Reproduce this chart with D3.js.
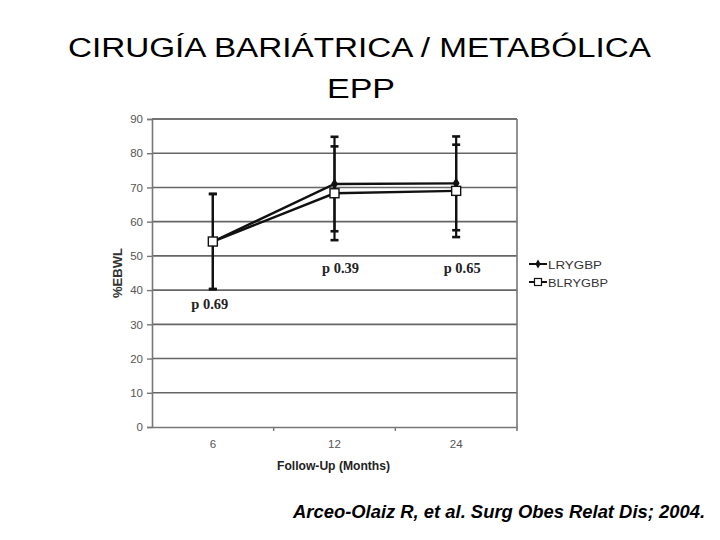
<!DOCTYPE html>
<html>
<head>
<meta charset="utf-8">
<script src="https://cdn.jsdelivr.net/npm/d3@7"></script>
<style>
  body { margin: 0; background: #fff; }
  svg { display: block; font-family: "Liberation Sans", Arial, sans-serif; }
</style>
</head>
<body>
<div id="chart-container"></div>
<script>
// Data
const months = ["6", "12", "24"];
const lrygbp = [54.2, 71.0, 71.2];
const lrygbpSd = [13.9, 13.8, 13.7];
const blrygbp = [54.2, 68.3, 69.0];
const blrygbpSd = [13.9, 13.7, 13.5];
const pLabels = ["p 0.69", "p 0.39", "p 0.65"];
const pAt = [34.4, 45.0, 45.0];
const yTicks = [0, 10, 20, 30, 40, 50, 60, 70, 80, 90];

const W = 720, H = 540;
const plot = { left: 152, right: 517, top: 119, bottom: 427 };

const svg = d3.select("#chart-container")
  .append("svg")
  .attr("width", W)
  .attr("height", H);

// Title (slide text is stretched a bit wider than plain Arial)
svg.append("text")
  .attr("x", 68).attr("y", 57)
  .attr("textLength", 583).attr("lengthAdjust", "spacingAndGlyphs")
  .style("font-size", "27px")
  .text("CIRUGÍA BARIÁTRICA / METABÓLICA");
svg.append("text")
  .attr("x", 327).attr("y", 98)
  .attr("textLength", 68).attr("lengthAdjust", "spacingAndGlyphs")
  .style("font-size", "27px")
  .text("EPP");

// Scales
const x = d3.scaleBand()
  .domain(months)
  .range([plot.left, plot.right]);

const y = d3.scaleLinear()
  .domain([0, 90])
  .range([plot.bottom, plot.top]);

const cx = d => x(d) + x.bandwidth() / 2;

// Gridlines
svg.append("g")
  .selectAll("line")
  .data(yTicks.slice(1))
  .enter()
  .append("line")
  .attr("x1", plot.left).attr("x2", plot.right)
  .attr("y1", d => y(d)).attr("y2", d => y(d))
  .attr("stroke", d => d === 90 ? "#444" : "#666")
  .attr("stroke-width", 1.6);

// Right border
svg.append("line")
  .attr("x1", plot.right).attr("x2", plot.right)
  .attr("y1", plot.top).attr("y2", plot.bottom + 4)
  .attr("stroke", "#777").attr("stroke-width", 1.6);

// Y axis
const yAxis = svg.append("g")
  .attr("transform", `translate(${plot.left},0)`)
  .call(d3.axisLeft(y).tickValues(yTicks).tickSize(5).tickPadding(4));
yAxis.select(".domain").attr("stroke", "#777").attr("stroke-width", 1.6);
yAxis.selectAll(".tick line").attr("stroke", "#777").attr("stroke-width", 1.4);
yAxis.selectAll("text").attr("fill", "#555").style("font-size", "11.5px")
  .style("font-family", "'Liberation Sans', Arial, sans-serif");

// X axis
const xAxis = svg.append("g")
  .attr("transform", `translate(0,${plot.bottom})`)
  .call(d3.axisBottom(x).tickSize(0).tickPadding(13));
xAxis.select(".domain").attr("stroke", "#777").attr("stroke-width", 1.6);
xAxis.selectAll("text").attr("fill", "#555").style("font-size", "11.5px")
  .style("font-family", "'Liberation Sans', Arial, sans-serif");
// tick marks between categories
xAxis.selectAll(".sep")
  .data(months.slice(1))
  .enter()
  .append("line")
  .attr("x1", d => x(d)).attr("x2", d => x(d))
  .attr("y1", 0).attr("y2", 4)
  .attr("stroke", "#777").attr("stroke-width", 1.4);

// Axis titles
svg.append("text")
  .attr("transform", `translate(122,298) rotate(-90)`)
  .attr("textLength", 50).attr("lengthAdjust", "spacingAndGlyphs")
  .style("font-size", "12px")
  .style("font-weight", "bold")
  .attr("fill", "#333")
  .text("%EBWL");

svg.append("text")
  .attr("x", 277).attr("y", 470)
  .attr("textLength", 113).attr("lengthAdjust", "spacingAndGlyphs")
  .style("font-size", "12px")
  .style("font-weight", "bold")
  .attr("fill", "#222")
  .text("Follow-Up (Months)");

// Error bars
function errorBars(vals, sds) {
  const g = svg.append("g").attr("stroke", "#111").attr("stroke-width", 2.2);
  months.forEach((m, i) => {
    const hi = y(vals[i] + sds[i]), lo = y(vals[i] - sds[i]);
    g.append("line").attr("x1", cx(m)).attr("x2", cx(m)).attr("y1", hi).attr("y2", lo);
    g.append("line").attr("x1", cx(m) - 4).attr("x2", cx(m) + 4).attr("y1", hi).attr("y2", hi).attr("stroke-width", 2.6);
    g.append("line").attr("x1", cx(m) - 4).attr("x2", cx(m) + 4).attr("y1", lo).attr("y2", lo).attr("stroke-width", 2.6);
  });
}
errorBars(lrygbp, lrygbpSd);
errorBars(blrygbp, blrygbpSd);

const line = d3.line()
  .x((d, i) => cx(months[i]))
  .y(d => y(d));

svg.append("path")
  .datum(lrygbp)
  .attr("d", line)
  .attr("fill", "none")
  .attr("stroke", "#111")
  .attr("stroke-width", 2.4);

svg.append("path")
  .datum(blrygbp)
  .attr("d", line)
  .attr("fill", "none")
  .attr("stroke", "#111")
  .attr("stroke-width", 2.4);

// Markers
svg.selectAll(".dia")
  .data(lrygbp)
  .enter()
  .append("path")
  .attr("class", "dia")
  .attr("transform", (d, i) => `translate(${cx(months[i])},${y(d)})`)
  .attr("d", d3.symbol(d3.symbolDiamond, 40))
  .attr("fill", "#111");

svg.selectAll(".sq")
  .data(blrygbp)
  .enter()
  .append("rect")
  .attr("class", "sq")
  .attr("x", (d, i) => cx(months[i]) - 4.5)
  .attr("y", d => y(d) - 4.5)
  .attr("width", 9).attr("height", 9)
  .attr("fill", "#fff")
  .attr("stroke", "#111")
  .attr("stroke-width", 1.4);

// p values
svg.selectAll(".pval")
  .data(pLabels)
  .enter()
  .append("text")
  .attr("class", "pval")
  .attr("x", (d, i) => cx(months[i]) + (i === 0 ? -3 : 6))
  .attr("y", (d, i) => y(pAt[i]))
  .attr("text-anchor", "middle")
  .attr("textLength", 37).attr("lengthAdjust", "spacingAndGlyphs")
  .style("font-family", "'Liberation Serif', 'Times New Roman', serif")
  .style("font-weight", "bold")
  .style("font-size", "14.5px")
  .attr("fill", "#222")
  .text(d => d);

// Legend
const legend = svg.append("g").attr("transform", "translate(529,264)");
legend.append("line").attr("x1", 0).attr("x2", 18).attr("y1", 0).attr("y2", 0)
  .attr("stroke", "#111").attr("stroke-width", 2);
legend.append("path").attr("transform", "translate(9,0)")
  .attr("d", d3.symbol(d3.symbolDiamond, 24)).attr("fill", "#111");
legend.append("text").attr("x", 19).attr("y", 4.5)
  .attr("textLength", 54).attr("lengthAdjust", "spacingAndGlyphs")
  .style("font-size", "11px").attr("fill", "#333").text("LRYGBP");
legend.append("line").attr("x1", 0).attr("x2", 18).attr("y1", 18).attr("y2", 18)
  .attr("stroke", "#111").attr("stroke-width", 2);
legend.append("rect").attr("x", 5.5).attr("y", 14.5).attr("width", 7).attr("height", 7)
  .attr("fill", "#fff").attr("stroke", "#111").attr("stroke-width", 1.2);
legend.append("text").attr("x", 19).attr("y", 22.5)
  .attr("textLength", 60).attr("lengthAdjust", "spacingAndGlyphs")
  .style("font-size", "11px").attr("fill", "#333").text("BLRYGBP");

// Citation
svg.append("text")
  .attr("x", 293).attr("y", 518)
  .attr("textLength", 412).attr("lengthAdjust", "spacingAndGlyphs")
  .style("font-size", "18px")
  .style("font-weight", "bold")
  .style("font-style", "italic")
  .text("Arceo-Olaiz R, et al. Surg Obes Relat Dis; 2004.");
</script>
</body>
</html>
